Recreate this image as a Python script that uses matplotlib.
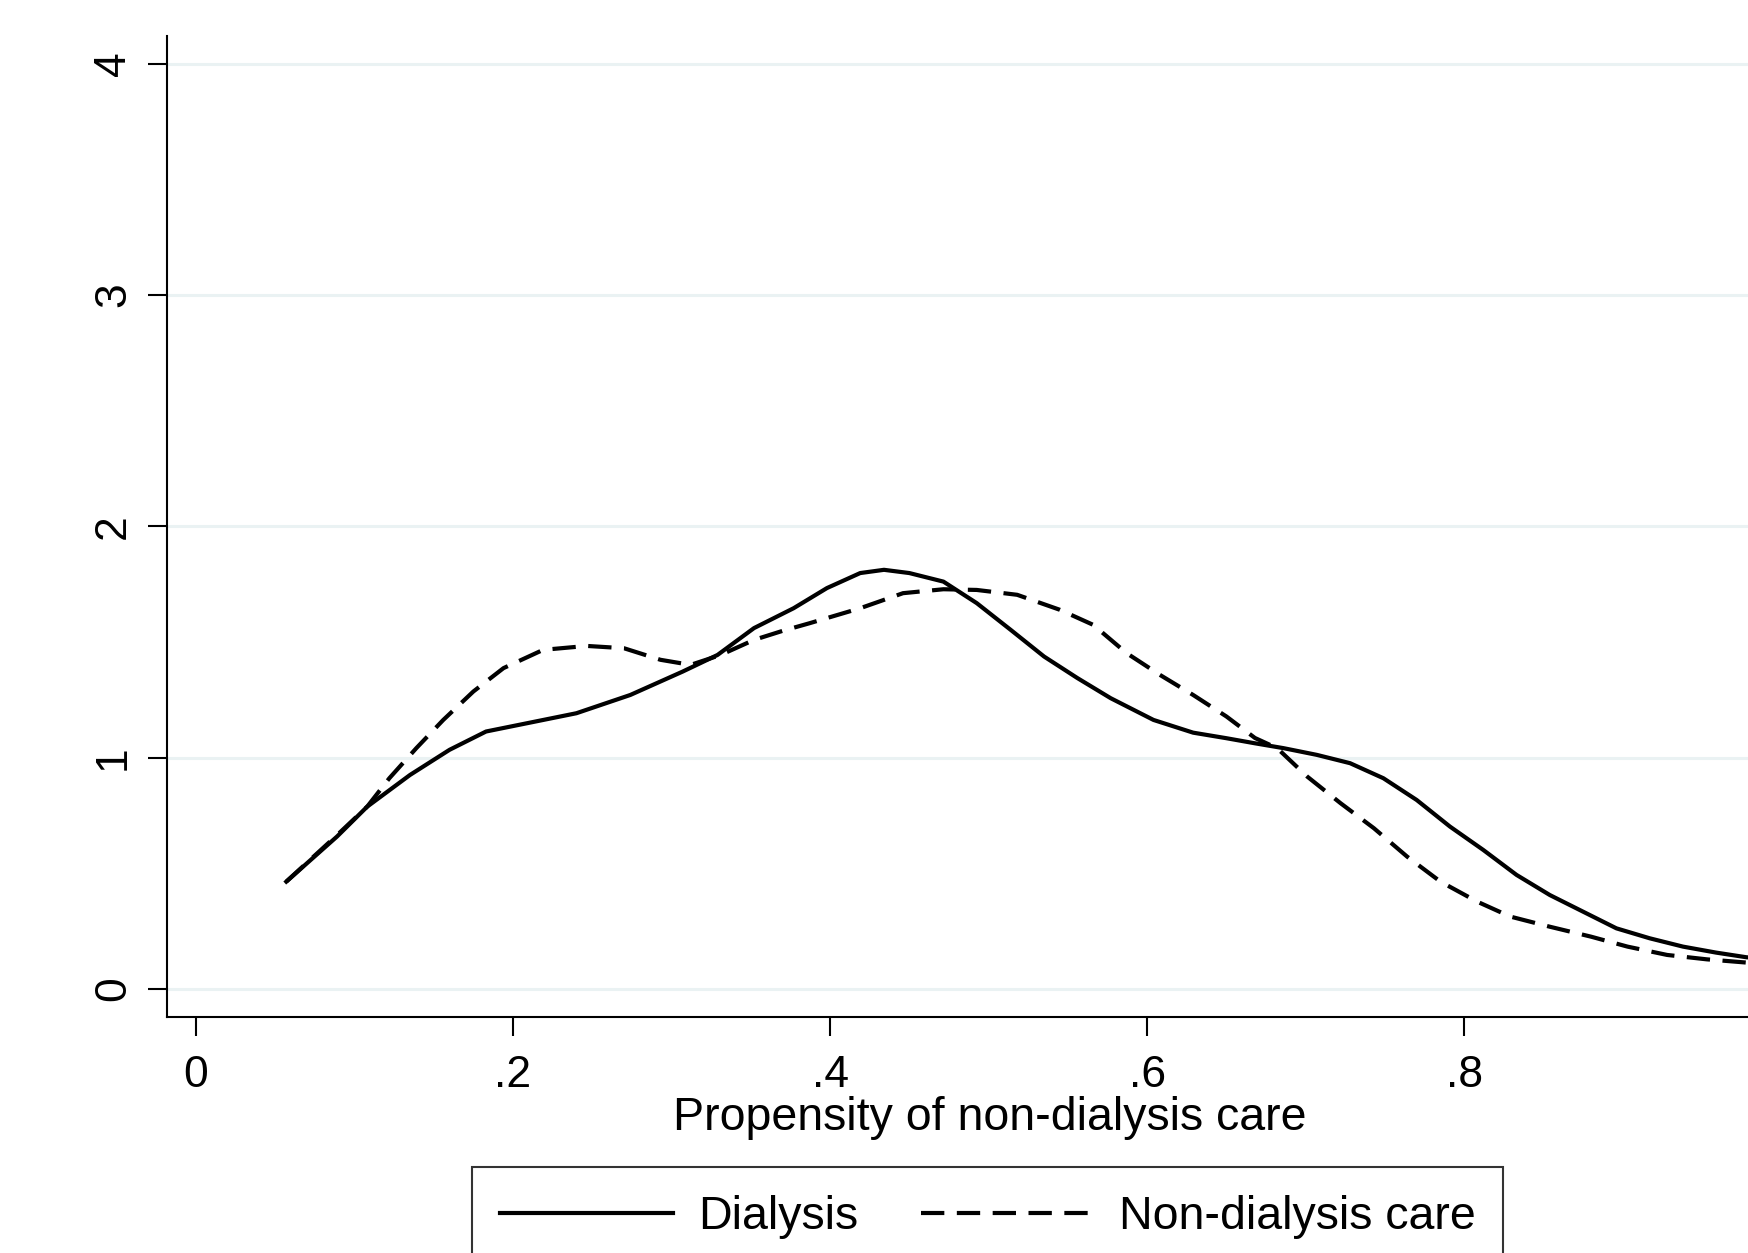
import matplotlib
matplotlib.use("Agg")
from matplotlib import pyplot as plt

plt.rcParams['font.family'] = ['Liberation Sans', 'DejaVu Sans']

# kernel density curves
x_dial = [0.057, 0.089, 0.108, 0.135, 0.160, 0.183, 0.209, 0.240, 0.274, 0.307,
          0.329, 0.352, 0.377, 0.398, 0.419, 0.434, 0.450, 0.4715, 0.4925, 0.514,
          0.535, 0.556, 0.577, 0.604, 0.629, 0.650, 0.668, 0.686, 0.707, 0.728,
          0.749, 0.770, 0.791, 0.812, 0.833, 0.854, 0.875, 0.896, 0.917, 0.938,
          0.959, 0.978, 0.995]
y_dial = [0.464, 0.659, 0.788, 0.925, 1.034, 1.113, 1.149, 1.192, 1.271, 1.372,
          1.444, 1.560, 1.646, 1.733, 1.798, 1.812, 1.798, 1.761, 1.668, 1.552,
          1.437, 1.344, 1.257, 1.163, 1.108, 1.084, 1.062, 1.041, 1.012, 0.976,
          0.911, 0.817, 0.702, 0.601, 0.493, 0.406, 0.334, 0.262, 0.219, 0.183,
          0.157, 0.137, 0.128]

x_nond = [0.057, 0.089, 0.108, 0.122, 0.139, 0.156, 0.175, 0.194, 0.219, 0.2465,
          0.270, 0.293, 0.312, 0.331, 0.352, 0.370, 0.387, 0.419, 0.446, 0.4715,
          0.4925, 0.518, 0.545, 0.566, 0.587, 0.608, 0.629, 0.650, 0.668, 0.682,
          0.701, 0.722, 0.743, 0.764, 0.785, 0.808, 0.829, 0.854, 0.880, 0.903,
          0.928, 0.953, 0.978, 0.995]
y_nond = [0.464, 0.665, 0.788, 0.911, 1.041, 1.163, 1.286, 1.387, 1.466, 1.483,
          1.473, 1.423, 1.401, 1.444, 1.509, 1.548, 1.581, 1.646, 1.711, 1.728,
          1.725, 1.704, 1.639, 1.574, 1.452, 1.358, 1.271, 1.178, 1.085, 1.041,
          0.918, 0.803, 0.695, 0.572, 0.464, 0.378, 0.313, 0.269, 0.226, 0.183,
          0.147, 0.128, 0.114, 0.108]

xticks = [0, 0.2, 0.4, 0.6, 0.8]
xtick_labels = ['0', '.2', '.4', '.6', '.8']
yticks = [0, 1, 2, 3, 4]

fig = plt.figure(figsize=(17.48, 12.53), dpi=100)
ax = fig.add_axes([0.0955, 0.1884, 0.9045, 0.7829])

ax.plot(x_dial, y_dial, color='black', lw=3.0, label='Dialysis',
        solid_joinstyle='round')
ax.plot(x_nond, y_nond, color='black', lw=3.0, dashes=(5.6, 3.0),
        label='Non-dialysis care')

ax.set_xlim(-0.0183, 0.979)
ax.set_ylim(-0.121, 4.12)
ax.set_xticks(xticks)
ax.set_xticklabels(xtick_labels)
ax.set_yticks(yticks)
ax.set_yticklabels([str(v) for v in yticks], rotation=90, va='center')
ax.grid(axis='y', color='#eaf2f3', lw=2.2)
ax.set_axisbelow(True)

for s in ['top', 'right']:
    ax.spines[s].set_visible(False)
for s in ['left', 'bottom']:
    ax.spines[s].set_linewidth(1.5)
ax.tick_params(axis='both', length=13.7, width=1.5, labelsize=32)
ax.tick_params(axis='y', pad=10)
ax.tick_params(axis='x', pad=14)

ax.set_xlabel('Propensity of non-dialysis care', fontsize=33.5)
ax.xaxis.label.set_va('center')
ax.xaxis.set_label_coords(0.5206, -0.103)

leg = fig.legend(loc='upper center', bbox_to_anchor=(0.5652, 0.0686), ncol=2,
                 fontsize=33.5, frameon=True, fancybox=False, handlelength=3.7,
                 columnspacing=1.35, borderpad=0.6, handletextpad=0.55,
                 borderaxespad=0)
leg.get_frame().set_edgecolor('black')
leg.get_frame().set_linewidth(1.5)

plt.savefig('out.png', dpi=100)
